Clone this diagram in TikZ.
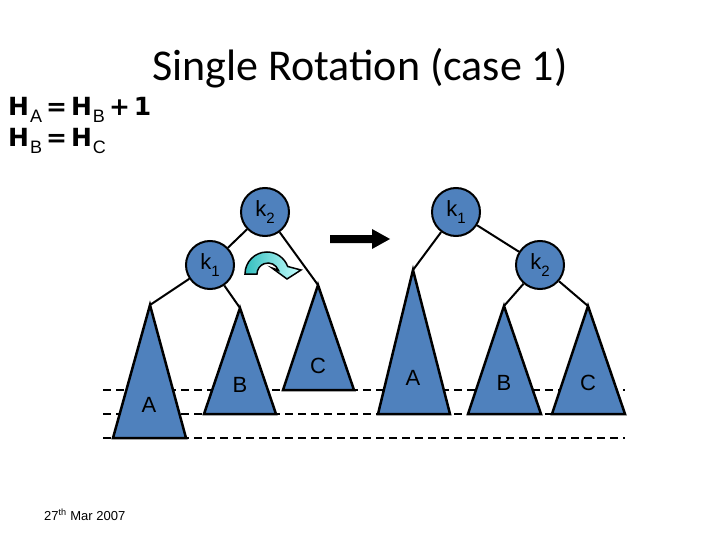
\documentclass[tikz,border=0pt]{standalone}
\usepackage{fontspec}
\setmainfont{Liberation Sans}
\newfontfamily\titlefont{Carlito}
\newfontfamily\hfont{DejaVu Sans}
\definecolor{treeblue}{RGB}{79,129,189}
\definecolor{rotdark}{RGB}{51,190,190}
\definecolor{rotlight}{RGB}{200,255,255}
\newcommand{\hsub}[1]{\kern1pt\raisebox{-0.25em}{\normalfont\fontsize{18}{18}\selectfont #1}\kern4pt}
\newcommand{\hk}{\kern4pt}
\newcommand{\klab}[1]{k\raisebox{-0.35em}{\fontsize{15}{15}\selectfont #1}}
\begin{document}
\begin{tikzpicture}[x=1pt,y=-1pt,
  tri/.style={draw=black, line width=2.5pt, fill=treeblue, line join=miter},
  knode/.style={circle, draw=black, line width=2pt, fill=treeblue, minimum size=48pt, inner sep=0pt, font=\fontsize{22}{22}\selectfont},
  edge/.style={line width=2pt},
  guide/.style={line width=2pt, dash pattern=on 8pt off 5pt},
  tlab/.style={font=\fontsize{22}{22}\selectfont}]
\useasboundingbox (0,0) rectangle (720,540);

% title and texts
\node[font=\titlefont\fontsize{44}{44}\selectfont] (title) at (360,68) {Single Rotation (case 1)};
\node[anchor=base west, inner sep=0pt, font=\hfont\bfseries\fontsize{25}{25}\selectfont] (h1) at (8,116) {H\hsub{A}=\hk H\hsub{B}+\hk 1};
\node[anchor=base west, inner sep=0pt, font=\hfont\bfseries\fontsize{25}{25}\selectfont] (h2) at (8,147) {H\hsub{B}=\hk H\hsub{C}};
\node[anchor=base west, inner sep=0pt, font=\fontsize{13}{13}\selectfont] (date) at (44,520) {27\textsuperscript{th} Mar 2007};

% guide lines
\coordinate (g1l) at (103,390); \coordinate (g1r) at (625,390);
\coordinate (g2l) at (103,414); \coordinate (g2r) at (625,414);
\coordinate (g3l) at (103,438); \coordinate (g3r) at (625,438);
\draw[guide] (g1l) -- (g1r);
\draw[guide] (g2l) -- (g2r);
\draw[guide] (g3l) -- (g3r);

% left tree
\coordinate (LA) at (150,305);
\coordinate (LB) at (240,308);
\coordinate (LC) at (318,285);
\node[knode] (Lk2) at (265,212) {\klab{2}};
\node[knode] (Lk1) at (210,265) {\klab{1}};
\draw[edge] (Lk2) -- (Lk1);
\draw[edge] (Lk2) -- (LC);
\draw[edge] (Lk1) -- (LA);
\draw[edge] (Lk1) -- (LB);
\draw[tri] (LA) -- (186,438) -- (113,438) -- cycle;
\draw[tri] (LB) -- (276,414) -- (204,414) -- cycle;
\draw[tri] (LC) -- (354,390) -- (283,390) -- cycle;
\node[tlab] (lAl) at (149,405) {A};
\node[tlab] (lBl) at (240,385) {B};
\node[tlab] (lCl) at (318,366) {C};

% right tree
\coordinate (RA) at (413,270);
\coordinate (RB) at (504,306);
\coordinate (RC) at (588,306);
\node[knode] (Rk1) at (456,212) {\klab{1}};
\node[knode] (Rk2) at (540,265) {\klab{2}};
\draw[edge] (Rk1) -- (Rk2);
\draw[edge] (Rk1) -- (RA);
\draw[edge] (Rk2) -- (RB);
\draw[edge] (Rk2) -- (RC);
\draw[tri] (RA) -- (450,414) -- (378,414) -- cycle;
\draw[tri] (RB) -- (541,414) -- (468,414) -- cycle;
\draw[tri] (RC) -- (625,414) -- (552,414) -- cycle;
\node[tlab] (rAl) at (413,378) {A};
\node[tlab] (rBl) at (504,383) {B};
\node[tlab] (rCl) at (588,383) {C};

% big arrow
\fill[black] (330,235) -- (372,235) -- (372,229) -- (390,239) -- (372,249) -- (372,243) -- (330,243) -- cycle;

% rotation arrow
\draw[line width=1.5pt, left color=rotdark, right color=rotlight, line join=miter]
  (245,274) arc[start angle=180, end angle=340, radius=22]
  -- (301,270)
  -- (287,279)
  -- (272,268)
  -- ([shift={(268,274)}]340:11)
  arc[start angle=340, end angle=180, radius=11] -- cycle;
\end{tikzpicture}
\end{document}
